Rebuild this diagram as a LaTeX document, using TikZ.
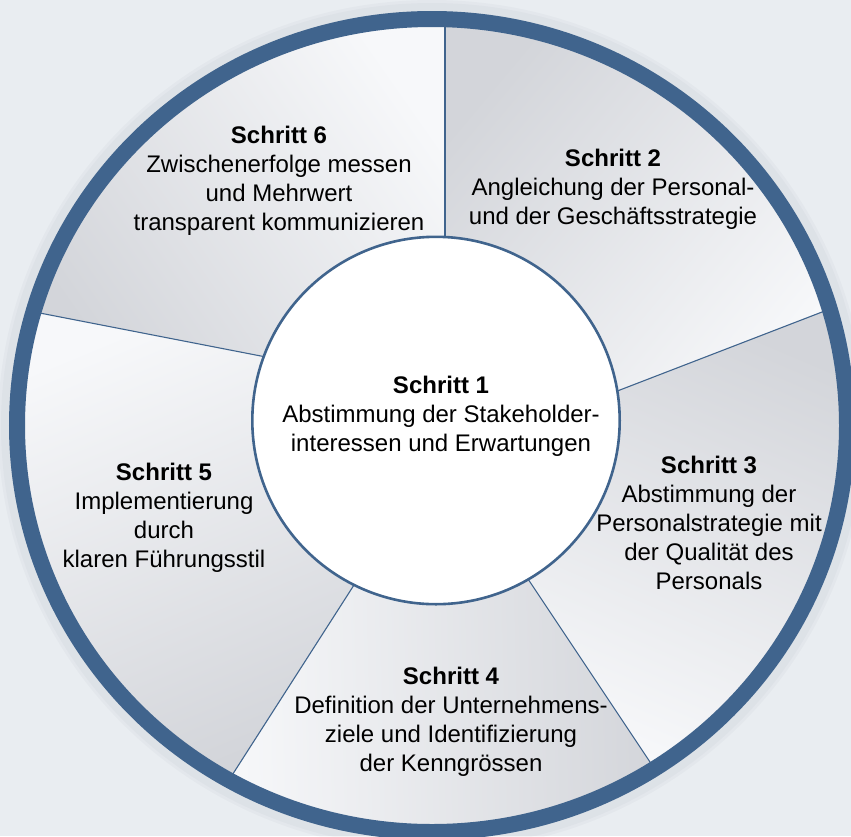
\documentclass[tikz,border=0pt]{standalone}
\usepackage{fontspec}
\setmainfont{Liberation Sans}

\definecolor{ringblue}{RGB}{64,100,141}
\definecolor{seclight}{RGB}{247,248,250}
\definecolor{secdark}{RGB}{211,213,218}
\definecolor{bggray}{RGB}{233,237,241}
\definecolor{halo}{RGB}{60,75,95}

\tikzset{
  steptext/.style={align=center, inner sep=0pt, font=\fontsize{24}{29}\selectfont},
  divider/.style={draw=ringblue, line width=1.1pt},
  secshade/.style={top color=seclight, bottom color=secdark, shading angle=#1},
}

\begin{document}
\begin{tikzpicture}[x=1pt, y=-1pt]
	\useasboundingbox (0,0) rectangle (851,836);
	\clip (0,0) rectangle (851,836);
	\fill[bggray] (0,0) rectangle (851,836);
	% centres of ring and hub
	\coordinate (ringc) at (432,425.5);
	\coordinate (hubc) at (436,420.5);
	% divider ends: on the hub, under the ring, far outside
	\coordinate (d1in) at (445,240);   \coordinate (d1out) at (445,20);    \coordinate (d1far) at (445,-200);
	\coordinate (d2in) at (616,391.5); \coordinate (d2out) at (835,307);   \coordinate (d2far) at (1034,230);
	\coordinate (d3in) at (528,579);   \coordinate (d3out) at (656,771);   \coordinate (d3far) at (772,946);
	\coordinate (d4in) at (354,585);   \coordinate (d4out) at (229,780);   \coordinate (d4far) at (114,960);
	\coordinate (d5in) at (266,357);   \coordinate (d5out) at (32,311.5);  \coordinate (d5far) at (-182,270);
	% soft halo round the ring
	\foreach \w in {26,20} {
		\draw[halo, opacity=0.03, line width=\w] (ringc) ellipse [x radius=421, y radius=412.5];
	}
	% shaded sectors
	\begin{scope}
		\clip (ringc) ellipse [x radius=415, y radius=406.5];
		\begin{scope}
			\clip (d5in) -- (d5far) -- (-200,-200) -- (d1far) -- (d1in) -- (hubc) -- cycle;
			\shade[secshade=-55] (9,11) rectangle (445,360);
		\end{scope}
		\begin{scope}
			\clip (d1in) -- (d1far) -- (1100,-200) -- (d2far) -- (d2in) -- (hubc) -- cycle;
			\shade[secshade=-130] (445,11) rectangle (851,400);
		\end{scope}
		\begin{scope}
			\clip (d2in) -- (d2far) -- (1100,1000) -- (d3far) -- (d3in) -- (hubc) -- cycle;
			\shade[secshade=157] (520,300) rectangle (851,780);
		\end{scope}
		\begin{scope}
			\clip (d3in) -- (d3far) -- (d4far) -- (d4in) -- (hubc) -- cycle;
			\shade[secshade=91.5] (225,575) rectangle (660,836);
		\end{scope}
		\begin{scope}
			\clip (d4in) -- (d4far) -- (-200,1000) -- (d5far) -- (d5in) -- (hubc) -- cycle;
			\shade[secshade=22.5] (9,305) rectangle (360,780);
		\end{scope}
	\end{scope}
	% dividers
	\draw[divider] (d1in) -- (d1out);
	\draw[divider] (d2in) -- (d2out);
	\draw[divider] (d3in) -- (d3out);
	\draw[divider] (d4in) -- (d4out);
	\draw[divider] (d5in) -- (d5out);
	% ring and hub
	\draw[ringblue, line width=16] (ringc) ellipse [x radius=415, y radius=406.5];
	\draw[ringblue, fill=white, line width=2.6] (hubc) circle [radius=183.7];
	% step texts
	\node[steptext] (s1) at (441,416.5) {\textbf{Schritt 1}\\Abstimmung der Stakeholder-\\interessen und Erwartungen};
	\node[steptext] (s2) at (613,189.5) {\textbf{Schritt 2}\\Angleichung der Personal-\\und der Geschäftsstrategie};
	\node[steptext] (s3) at (709,523) {\textbf{Schritt 3}\\Abstimmung der\\Personalstrategie mit\\der Qualität des\\Personals};
	\node[steptext] (s4) at (451,722) {\textbf{Schritt 4}\\Definition der Unternehmens-\\ziele und Identifizierung\\der Kenngrössen};
	\node[steptext] (s5) at (164,517.5) {\textbf{Schritt 5}\\Implementierung\\durch\\klaren Führungsstil};
	\node[steptext] (s6) at (279,181) {\textbf{Schritt 6}\\Zwischenerfolge messen\\und Mehrwert\\transparent kommunizieren};
\end{tikzpicture}
\end{document}
